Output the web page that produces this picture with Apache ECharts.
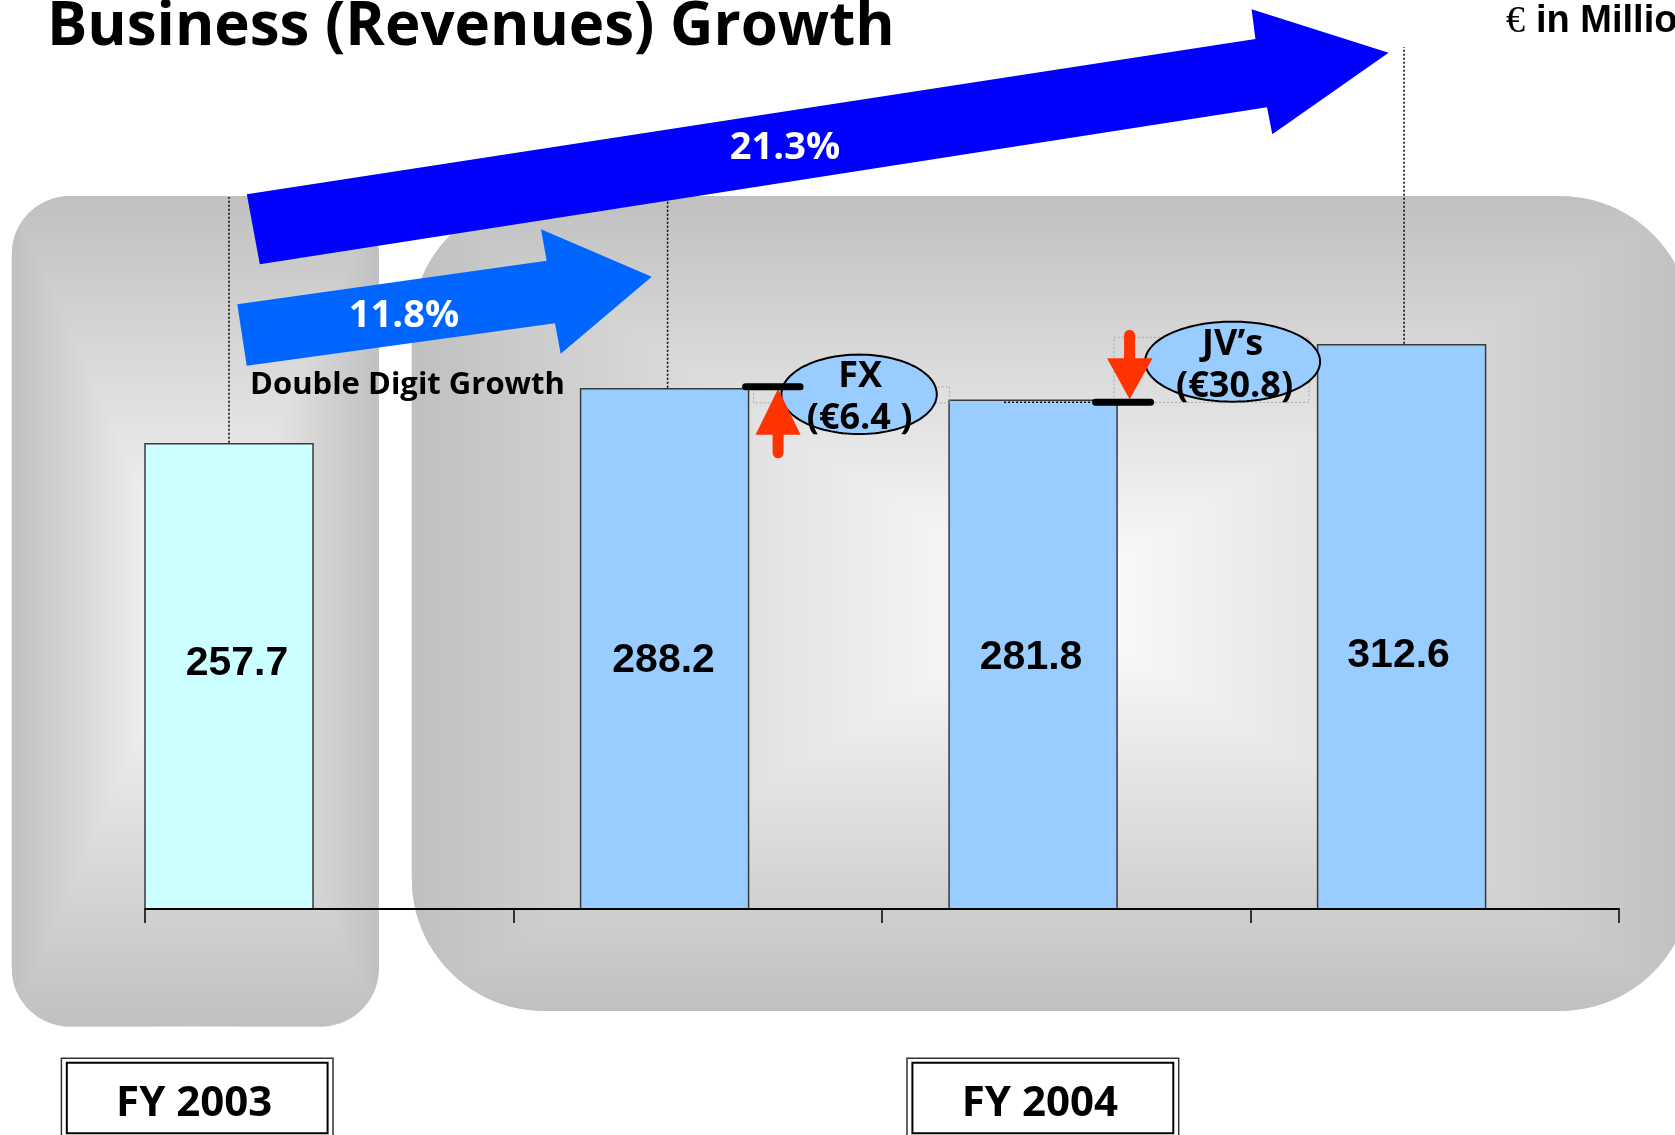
<!DOCTYPE html>
<html><head><meta charset="utf-8">
<script src="https://cdn.jsdelivr.net/npm/echarts@6/dist/echarts.min.js"></script>
<style>html,body{margin:0;padding:0;background:#fff;overflow:hidden}#c{width:1675px;height:1135px}</style>
</head><body><div id="c"></div>
<script>
// ---- data ----
const categories = ['FY 2003', 'FY 2004', 'FY 2004 excl. FX', 'FY 2004 incl. JV’s'];
const revenues = [257.7, 288.2, 281.8, 312.6];
const barColors = ['#CCFFFF', '#99CCFF', '#99CCFF', '#99CCFF'];
const growthLabels = ['11.8%', '21.3%'];
const growthNote = 'Double Digit Growth';
const adjustmentNames = ['FX', 'JV’s'];
const adjustmentValues = ['(€6.4 )', '(€30.8)'];
const periodLabels = ['FY 2003', 'FY 2004'];
const titleText = 'Business (Revenues) Growth';
const unitSymbol = '€';
const unitText = 'in Millions';

// ---- layout constants ----
const BAR_W = 168;
const BAR_SHIFT = [-0.272, -0.09, -0.09, -0.09];
const LABEL_DX = [8, -1, -2, -3];
const LABEL_LEVEL = [135.8, 137.3, 139, 140.6];
const SANS = '"Open Sans", "Noto Sans", sans-serif';
const ARIAL = '"Liberation Sans", Arial, sans-serif';

const chart = echarts.init(document.getElementById('c'), null, {renderer: 'canvas'});

const option = {
  animation: false,
  backgroundColor: '#ffffff',
  grid: {left: 145, right: 56, top: 187, bottom: 226, containLabel: false},
  xAxis: {
    type: 'category', data: categories, boundaryGap: true,
    axisLine: {show: true, lineStyle: {color: '#000', width: 2}},
    axisTick: {show: true, interval: 0, length: 14, lineStyle: {color: '#000', width: 1.5}},
    axisLabel: {show: false}, splitLine: {show: false}, z: 3
  },
  yAxis: {type: 'value', min: 0, max: 400, show: false},
  series: [{
    type: 'custom', z: 2,
    data: revenues.map((v, i) => [i, v]),
    renderItem: function (params, api) {
      const i = api.value(0), v = api.value(1);
      const top = api.coord([i, v]);
      const base = api.coord([i, 0]);
      const band = api.size([1, 0])[0];
      const cx = top[0] + BAR_SHIFT[i] * band;
      const ly = api.coord([i, LABEL_LEVEL[i]])[1];
      return {type: 'group', children: [
        {type: 'rect', shape: {x: cx - BAR_W / 2, y: top[1], width: BAR_W, height: base[1] - top[1]},
         style: {fill: barColors[i], stroke: '#3a3a3a', lineWidth: 1.5}},
        {type: 'text', x: cx + LABEL_DX[i], y: ly,
         style: {text: v.toFixed(1), fill: '#000', font: 'bold 41px ' + ARIAL, align: 'center', verticalAlign: 'middle'}}
      ]};
    }
  }]
};
chart.setOption(option);

// ---- helpers for annotation geometry ----
const px = (i, v) => chart.convertToPixel({xAxisIndex: 0, yAxisIndex: 0}, [i, v]);
const band = px(1, 0)[0] - px(0, 0)[0];
const barC = i => px(i, 0)[0] + BAR_SHIFT[i] * band;
const barTop = i => px(i, revenues[i])[1];
const barR = i => barC(i) + BAR_W / 2;

function arcPts(cx, cy, r, a0, a1, n) {
  const pts = [];
  for (let k = 0; k <= n; k++) {
    const a = a0 + (a1 - a0) * k / n;
    pts.push([cx + r * Math.cos(a), cy + r * Math.sin(a)]);
  }
  return pts;
}
function ellipsePts(cx, cy, rx, ry) {
  const pts = [];
  for (let k = 0; k < 120; k++) {
    const a = 2 * Math.PI * k / 120;
    pts.push([cx + rx * Math.cos(a), cy + ry * Math.sin(a)]);
  }
  return pts;
}

function panel(x0, y0, x1, y1, r, center, edge) {
  const cx = (x0 + x1) / 2, cy = (y0 + y1) / 2;
  const els = [];
  els.push({type: 'rect', z: -10, silent: true, shape: {x: x0, y: y0, width: x1 - x0, height: y1 - y0},
    style: {fill: {type: 'linear', x: 0, y: 0, x2: 1, y2: 0, colorStops: [
      {offset: 0, color: edge}, {offset: 0.5, color: center}, {offset: 1, color: edge}]}}});
  els.push({type: 'polygon', z: -10, silent: true, shape: {points: [[x0, y0], [x1, y0], [cx, cy]]},
    style: {fill: {type: 'linear', x: 0, y: 0, x2: 0, y2: 1, colorStops: [
      {offset: 0, color: edge}, {offset: 1, color: center}]}}});
  els.push({type: 'polygon', z: -10, silent: true, shape: {points: [[x0, y1], [x1, y1], [cx, cy]]},
    style: {fill: {type: 'linear', x: 0, y: 0, x2: 0, y2: 1, colorStops: [
      {offset: 0, color: center}, {offset: 1, color: edge}]}}});
  const H = Math.PI / 2, P = Math.PI;
  const masks = [
    [[x0 - 2, y0 - 2]].concat(arcPts(x0 + r, y0 + r, r, -H, -P, 24)).concat([[x0 - 2, y0 + r]]),
    [[x1 + 2, y0 - 2]].concat(arcPts(x1 - r, y0 + r, r, -H, 0, 24)).concat([[x1 + 2, y0 + r]]),
    [[x0 - 2, y1 + 2]].concat(arcPts(x0 + r, y1 - r, r, H, P, 24)).concat([[x0 - 2, y1 - r]]),
    [[x1 + 2, y1 + 2]].concat(arcPts(x1 - r, y1 - r, r, H, 0, 24)).concat([[x1 + 2, y1 - r]])
  ];
  masks.forEach(p => els.push({type: 'polygon', z: -9, silent: true, shape: {points: p}, style: {fill: '#ffffff'}}));
  return els;
}

const g = [];
const EDGE = '#C0C0C0', CENTER = '#FFFFFF';
g.push(...panel(11.7, 196, 379, 1026.5, 58, CENTER, EDGE));
g.push(...panel(411.7, 196, 1692, 1011, 132, CENTER, EDGE));

// dotted guide lines from bar tops
const dotted = {stroke: '#000', lineWidth: 1.5, lineDash: [2, 2]};
g.push({type: 'line', z: 5, shape: {x1: barC(0), y1: barTop(0) - 1, x2: barC(0), y2: 197}, style: dotted});
g.push({type: 'line', z: 5, shape: {x1: barC(1) + 3, y1: barTop(1) - 1, x2: barC(1) + 3, y2: 197}, style: dotted});
g.push({type: 'line', z: 5, shape: {x1: barC(3) + 2.5, y1: barTop(3) - 1, x2: barC(3) + 2.5, y2: 47}, style: dotted});

// growth arrows
g.push({type: 'polygon', z: 6, shape: {points: [[246.8, 194.3], [1255.4, 39], [1251.6, 9.3], [1388.6, 52.7], [1272.3, 134.3], [1267, 107.3], [259.8, 264.3]]},
  style: {fill: '#0000FF'}});
g.push({type: 'polygon', z: 6, shape: {points: [[237.3, 304.3], [546.7, 260.7], [541, 229.3], [651.7, 276.7], [560.7, 353.7], [555, 323.3], [246.7, 365.7]]},
  style: {fill: '#0066FF'}});
g.push({type: 'text', z: 7, x: 785, y: 148, style: {text: growthLabels[1], fill: '#fff', font: 'bold 38px ' + SANS, align: 'center', verticalAlign: 'middle'}});
g.push({type: 'text', z: 7, x: 404, y: 316, style: {text: growthLabels[0], fill: '#fff', font: 'bold 38px ' + SANS, align: 'center', verticalAlign: 'middle'}});
g.push({type: 'text', z: 7, x: 250, y: 385, style: {text: growthNote, fill: '#000', font: 'bold 31px ' + SANS, align: 'left', verticalAlign: 'middle'}});

// FX adjustment
const fxY = barTop(1) - 2;
const fxX = barR(1);
g.push({type: 'rect', z: 5, shape: {x: fxX + 5, y: fxY, width: 196, height: 16}, style: {fill: 'none', stroke: '#a8a8a8', lineWidth: 1, lineDash: [2, 2]}});
g.push({type: 'polygon', z: 6, shape: {points: ellipsePts(fxX + 110.5, fxY + 7.5, 77.7, 39.7)}, style: {fill: '#99CCFF', stroke: '#000', lineWidth: 2}});
g.push({type: 'text', z: 7, x: fxX + 111.5, y: fxY - 10, style: {text: adjustmentNames[0], fill: '#000', font: 'bold 36px ' + SANS, align: 'center', verticalAlign: 'middle'}});
g.push({type: 'text', z: 7, x: fxX + 111, y: fxY + 32, style: {text: adjustmentValues[0], fill: '#000', font: 'bold 36px ' + SANS, align: 'center', verticalAlign: 'middle'}});
const upX = fxX + 29.5;
g.push({type: 'line', z: 8, shape: {x1: upX, y1: fxY + 66, x2: upX, y2: fxY + 46}, style: {stroke: '#FF3300', lineWidth: 11, lineCap: 'round'}});
g.push({type: 'polygon', z: 8, shape: {points: [[upX - 22.5, fxY + 48], [upX, fxY + 2], [upX + 22.5, fxY + 48]]}, style: {fill: '#FF3300'}});
g.push({type: 'line', z: 9, shape: {x1: fxX - 3, y1: fxY, x2: fxX + 51.5, y2: fxY}, style: {stroke: '#000', lineWidth: 7, lineCap: 'round'}});

// JV adjustment
const jvY = barTop(2) + 2;
const jvX = barR(2);
g.push({type: 'line', z: 5, shape: {x1: jvX - 113, y1: jvY, x2: jvX - 22, y2: jvY}, style: {stroke: '#000', lineWidth: 1.5, lineDash: [2, 2]}});
g.push({type: 'rect', z: 5, shape: {x: jvX - 3, y: jvY - 65, width: 195, height: 65}, style: {fill: 'none', stroke: '#a8a8a8', lineWidth: 1, lineDash: [2, 2]}});
g.push({type: 'polygon', z: 6, shape: {points: ellipsePts(jvX + 115.5, jvY - 40.7, 87.5, 40)}, style: {fill: '#99CCFF', stroke: '#000', lineWidth: 2}});
g.push({type: 'text', z: 7, x: jvX + 115.5, y: jvY - 58, style: {text: adjustmentNames[1], fill: '#000', font: 'bold 36px ' + SANS, align: 'center', verticalAlign: 'middle'}});
g.push({type: 'text', z: 7, x: jvX + 117.5, y: jvY - 16, style: {text: adjustmentValues[1], fill: '#000', font: 'bold 36px ' + SANS, align: 'center', verticalAlign: 'middle'}});
const dnX = jvX + 12.5;
g.push({type: 'line', z: 8, shape: {x1: dnX, y1: jvY - 67, x2: dnX, y2: jvY - 42}, style: {stroke: '#FF3300', lineWidth: 11, lineCap: 'round'}});
g.push({type: 'polygon', z: 8, shape: {points: [[dnX - 22.5, jvY - 44], [dnX + 23, jvY - 44], [dnX, jvY - 3]]}, style: {fill: '#FF3300'}});
g.push({type: 'line', z: 9, shape: {x1: jvX - 21.5, y1: jvY, x2: jvX + 33.5, y2: jvY}, style: {stroke: '#000', lineWidth: 7, lineCap: 'round'}});

// title & unit
g.push({type: 'text', z: 7, x: 47, y: 28, style: {text: titleText, fill: '#000', font: 'bold 60px ' + SANS, align: 'left', verticalAlign: 'middle'}});
g.push({type: 'text', z: 7, x: 1506, y: 22, style: {text: unitSymbol, fill: '#000', font: '38px "Liberation Serif", "DejaVu Serif", serif', align: 'left', verticalAlign: 'middle'}});
g.push({type: 'text', z: 7, x: 1536, y: 22, style: {text: unitText, fill: '#000', font: 'bold 38px ' + ARIAL, align: 'left', verticalAlign: 'middle'}});

// period boxes
function periodBox(x0, x1, label) {
  g.push({type: 'rect', z: 5, shape: {x: x0, y: 1058.3, width: x1 - x0, height: 90}, style: {fill: '#fff', stroke: '#333', lineWidth: 1.5}});
  g.push({type: 'rect', z: 5, shape: {x: x0 + 5.4, y: 1062.7, width: x1 - x0 - 10.8, height: 70.6}, style: {fill: '#fff', stroke: '#000', lineWidth: 2}});
  g.push({type: 'text', z: 6, x: (x0 + x1) / 2 - 3, y: 1104, style: {text: label, fill: '#000', font: 'bold 42px ' + SANS, align: 'center', verticalAlign: 'middle'}});
}
periodBox(61.4, 333, periodLabels[0]);
periodBox(907, 1178.7, periodLabels[1]);

chart.setOption({graphic: {elements: g}});
</script>
</body></html>
